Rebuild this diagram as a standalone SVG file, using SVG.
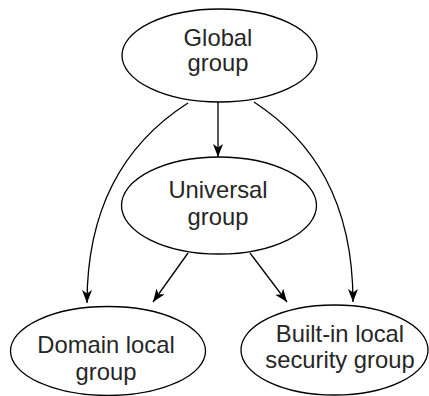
<svg xmlns="http://www.w3.org/2000/svg" width="429" height="396" viewBox="0 0 429 396">
<style>
.n{fill:#fff;stroke:#000;stroke-width:1.3}
.t{font-family:"Liberation Sans",Arial,sans-serif;font-size:23.8px;fill:#262626;text-anchor:middle}
.c{fill:none;stroke:#000;stroke-width:1.3}
</style>
<defs>
<marker id="ah" markerUnits="userSpaceOnUse" markerWidth="14" markerHeight="12" refX="13" refY="5" orient="auto">
<path d="M0,0 L13,5 L0,10 L3.5,5 z" fill="#000"/>
</marker>
</defs>
<rect width="429" height="396" fill="#fff"/>
<g id="connectors">
<path class="c" d="M218,102 L218,157" marker-end="url(#ah)"/>
<path class="c" d="M188,103 C130,140 87,200 87,303" marker-end="url(#ah)"/>
<path class="c" d="M254,102 C312,140 353,200 353,302" marker-end="url(#ah)"/>
<path class="c" d="M188,253 L153,302" marker-end="url(#ah)"/>
<path class="c" d="M250,253 L287,302" marker-end="url(#ah)"/>
</g>
<g id="global">
<ellipse class="n" cx="219.5" cy="55.5" rx="97.5" ry="46.5"/>
<text class="t" x="218" y="46">Global</text>
<text class="t" x="218" y="71">group</text>
</g>
<g id="universal">
<ellipse class="n" cx="219" cy="205.5" rx="97.5" ry="48.5"/>
<text class="t" x="218" y="198">Universal</text>
<text class="t" x="218" y="225">group</text>
</g>
<g id="domain">
<ellipse class="n" cx="108" cy="351" rx="97.5" ry="44.5"/>
<text class="t" x="106" y="353">Domain local</text>
<text class="t" x="106" y="380">group</text>
</g>
<g id="builtin">
<ellipse class="n" cx="334.5" cy="350" rx="93.5" ry="45"/>
<text class="t" x="340" y="342">Built-in local</text>
<text class="t" x="340" y="368">security group</text>
</g>
</svg>
